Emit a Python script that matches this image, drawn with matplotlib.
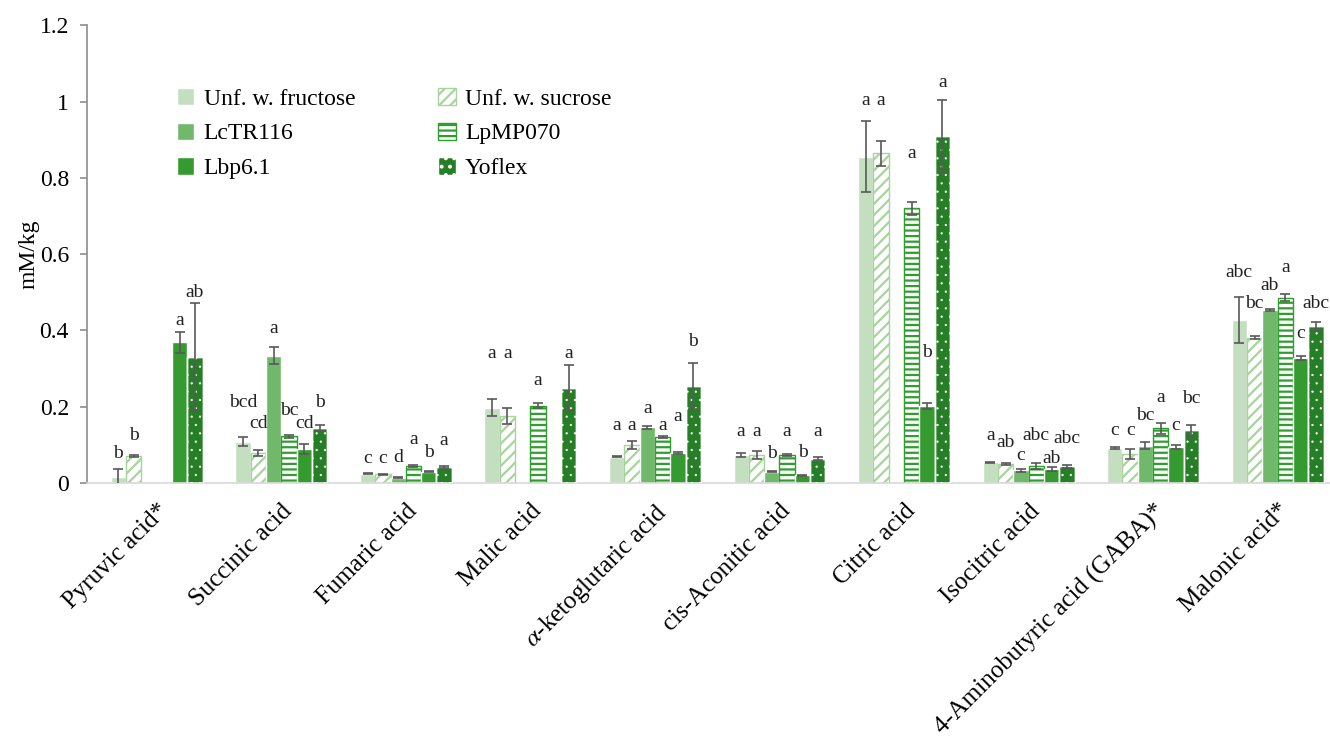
import numpy as np
import matplotlib
matplotlib.use("Agg")
import matplotlib.pyplot as plt
from matplotlib.patches import Patch
from matplotlib.ticker import FuncFormatter

nan = np.nan

acids = ['Pyruvic acid*', 'Succinic acid', 'Fumaric acid', 'Malic acid',
         r'$\alpha$-ketoglutaric acid', 'cis-Aconitic acid', 'Citric acid',
         'Isocitric acid', '4-Aminobutyric acid (GABA)*', 'Malonic acid*']

series = ['Unf. w. fructose', 'Unf. w. sucrose', 'LcTR116', 'LpMP070', 'Lbp6.1', 'Yoflex']

# mean values (mM/kg)
fructose = [0.016, 0.108, 0.025, 0.198, 0.069, 0.073, 0.855, 0.054, 0.091, 0.427]
sucrose = [0.071, 0.079, 0.023, 0.176, 0.099, 0.073, 0.864, 0.050, 0.075, 0.381]
lctr116 = [nan, 0.334, 0.014, nan, 0.146, 0.030, nan, 0.034, 0.098, 0.453]
lpmp070 = [nan, 0.123, 0.045, 0.203, 0.121, 0.073, 0.720, 0.045, 0.143, 0.486]
lbp61 = [0.369, 0.089, 0.030, nan, 0.079, 0.020, 0.202, 0.036, 0.095, 0.328]
yoflex = [0.331, 0.144, 0.042, 0.250, 0.254, 0.064, 0.909, 0.044, 0.138, 0.411]

# standard deviations
fructose_err = [0.022, 0.012, 0.002, 0.022, 0.002, 0.006, 0.093, 0.002, 0.003, 0.060]
sucrose_err = [0.003, 0.007, 0.002, 0.020, 0.010, 0.010, 0.032, 0.002, 0.013, 0.004]
lctr116_err = [nan, 0.022, 0.002, nan, 0.004, 0.002, nan, 0.004, 0.010, 0.002]
lpmp070_err = [nan, 0.004, 0.002, 0.007, 0.002, 0.002, 0.017, 0.008, 0.015, 0.010]
lbp61_err = [0.027, 0.013, 0.002, nan, 0.002, 0.002, 0.008, 0.005, 0.005, 0.005]
yoflex_err = [0.140, 0.008, 0.002, 0.059, 0.060, 0.003, 0.094, 0.004, 0.014, 0.012]

# significance letters
fructose_sig = ['b', 'bcd', 'c', 'a', 'a', 'a', 'a', 'a', 'c', 'abc']
sucrose_sig = ['b', 'cd', 'c', 'a', 'a', 'a', 'a', 'ab', 'c', 'bc']
lctr116_sig = ['', 'a', 'd', '', 'a', 'b', '', 'c', 'bc', 'ab']
lpmp070_sig = ['', 'bc', 'a', 'a', 'a', 'a', 'a', 'abc', 'a', 'a']
lbp61_sig = ['a', 'cd', 'b', '', 'a', 'b', 'b', 'ab', 'c', 'c']
yoflex_sig = ['ab', 'b', 'a', 'a', 'b', 'a', 'a', 'abc', 'bc', 'abc']

values = [fructose, sucrose, lctr116, lpmp070, lbp61, yoflex]
errors = [fructose_err, sucrose_err, lctr116_err, lpmp070_err, lbp61_err, yoflex_err]
letters = [fructose_sig, sucrose_sig, lctr116_sig, lpmp070_sig, lbp61_sig, yoflex_sig]

# layout: baseline height of each letter label, as placed in the original
label_y = [
    [0.065, 0.199, 0.052, 0.327, 0.139, 0.123, 0.990, 0.113, 0.126, 0.540],
    [0.113, 0.144, 0.052, 0.327, 0.139, 0.123, 0.990, 0.094, 0.126, 0.460],
    [None, 0.393, 0.055, None, 0.183, 0.065, None, 0.060, 0.165, 0.506],
    [None, 0.178, 0.102, 0.257, 0.139, 0.123, 0.851, 0.113, 0.212, 0.553],
    [0.414, 0.144, 0.068, None, 0.162, 0.068, 0.330, 0.052, 0.139, 0.380],
    [0.487, 0.199, 0.100, 0.327, 0.359, 0.123, 1.037, 0.105, 0.210, 0.458],
]

# styling per series
styles = [
    dict(facecolor='#c4dfc0', edgecolor='white', hatch=None),
    dict(facecolor='white', edgecolor='#a6d49c', hatch='///'),
    dict(facecolor='#70b86a', edgecolor='white', hatch=None),
    dict(facecolor='white', edgecolor='#2f9e2f', hatch='---'),
    dict(facecolor='#359a2f', edgecolor='white', hatch=None),
    dict(facecolor='#267e26', edgecolor='white', hatch=None),
]

plt.rcParams['font.family'] = ['Liberation Serif', 'DejaVu Serif']
plt.rcParams['mathtext.fontset'] = 'stix'

fig = plt.figure(figsize=(13.3, 7.42), dpi=100)
ax = fig.add_axes([0.0654, 0.349, 0.9346, 0.617])

x = np.arange(len(acids))
w = 0.123

for j, (vals, errs, sig, st) in enumerate(zip(values, errors, letters, styles)):
    vals = np.array(vals, dtype=float)
    errs = np.array(errs, dtype=float)
    xs = x + (j - 2.5) * w
    ok = ~np.isnan(vals)
    plt.rcParams['hatch.linewidth'] = 1.6
    ax.bar(xs[ok], vals[ok], width=w, facecolor=st['facecolor'],
           edgecolor=st['edgecolor'], hatch=st['hatch'], linewidth=1.0, zorder=2)
    if j == 5:
        # small white dots for Yoflex
        plt.rcParams['hatch.linewidth'] = 0.4
        ax.bar(xs[ok], vals[ok], width=w, facecolor='none', edgecolor='white',
               hatch='..', linewidth=1.0, zorder=3)
    ax.errorbar(xs[ok], vals[ok], yerr=errs[ok], fmt='none', ecolor='#595959',
                elinewidth=1.2, capsize=3.5, capthick=1.2, zorder=4)
    for i in np.where(ok)[0]:
        if sig[i]:
            ax.text(xs[i], label_y[j][i], sig[i], ha='center', va='baseline',
                    fontsize=14, color='#222222')

ax.set_xlim(-0.56, 9.42)
ax.set_ylim(0, 1.2)
ax.set_yticks(np.arange(0, 1.21, 0.2))
ax.yaxis.set_major_formatter(FuncFormatter(lambda v, p: f'{v:g}'))
ax.tick_params(axis='y', labelsize=17, length=5, color='#8c8c8c', width=1.2, pad=8)
ax.set_xticks(x)
ax.set_xticklabels(acids, rotation=45, ha='right', rotation_mode='anchor', fontsize=18)
ax.tick_params(axis='x', length=0, pad=12)
ax.set_ylabel('mM/kg', fontsize=17, labelpad=0)

for side in ['top', 'right']:
    ax.spines[side].set_visible(False)
ax.spines['left'].set_color('#8c8c8c')
ax.spines['left'].set_linewidth(1.2)
ax.spines['bottom'].set_color('#d9d9d9')
ax.spines['bottom'].set_linewidth(1.2)

plt.rcParams['hatch.linewidth'] = 1.6
handles = []
for j in range(6):
    st = styles[j]
    if j == 5:
        handles.append(Patch(facecolor=st['facecolor'], edgecolor='white', hatch='..'))
    else:
        handles.append(Patch(facecolor=st['facecolor'], edgecolor=st['edgecolor'],
                             hatch=st['hatch']))
order = [0, 2, 4, 1, 3, 5]
ax.legend([handles[k] for k in order], [series[k] for k in order], ncol=2,
          loc='upper left', bbox_to_anchor=(0.055, 0.91), frameon=False,
          fontsize=17, handlelength=0.75, handleheight=0.75, handletextpad=0.4,
          columnspacing=3.5, labelspacing=0.55)

fig.savefig('out.png', dpi=100)
